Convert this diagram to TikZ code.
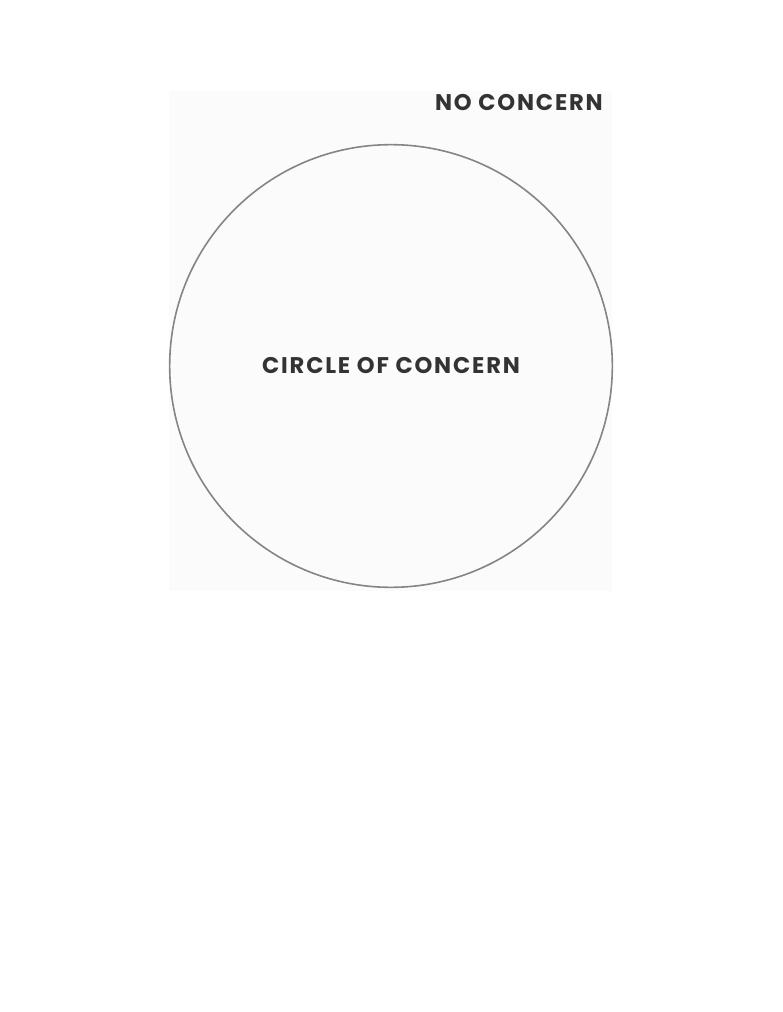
\documentclass[tikz,border=0pt]{standalone}
\usepackage{fontspec}
\setmainfont{Poppins}[LetterSpace=8]
\usetikzlibrary{positioning}
\definecolor{inkgray}{HTML}{333333}
\definecolor{ringgray}{HTML}{858585}
\definecolor{panelgray}{HTML}{FBFBFB}
\tikzset{
    panel/.style = {fill=panelgray, draw=none},
    ring/.style  = {circle, draw=ringgray, line width=1.2pt, minimum size=332pt, inner sep=0pt},
    label/.style = {font=\fontsize{17}{20}\selectfont\bfseries, text=inkgray, inner sep=0pt}
}
\begin{document}
\begin{tikzpicture}[x=0.75pt, y=-0.75pt]
    \useasboundingbox (0,0) rectangle (782,1012);

    % Background panel
    \fill[panel] (169,91) rectangle (612,591);

    % Circle with its label
    \node[ring] (coc) at (391,366) {};
    \node[label] (coclabel) at (coc.center) {CIRCLE OF CONCERN};

    % Outside label
    \node[label, anchor=east] (nolabel) at (603,103) {NO CONCERN};
\end{tikzpicture}
\end{document}
